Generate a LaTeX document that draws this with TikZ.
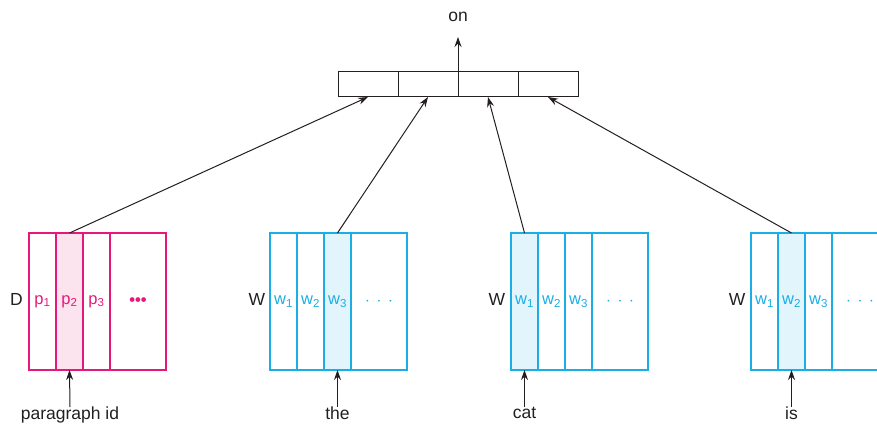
\documentclass[tikz,border=0pt]{standalone}
\usepackage{fontspec}
\setmainfont{Liberation Sans}
\usetikzlibrary{arrows.meta}
\definecolor{pk}{HTML}{E6197A}
\definecolor{pkfill}{HTML}{FCE4EE}
\definecolor{cy}{HTML}{1AAEE5}
\definecolor{cyfill}{HTML}{E3F5FC}
\definecolor{ink}{HTML}{231F20}
\tikzset{
  cellbase/.style={draw, line width=1.2pt, minimum height=137pt, inner sep=0pt, outer sep=0pt, anchor=north west, font=\fontsize{16.5}{16.5}\selectfont},
  narrow/.style={cellbase, minimum width=27pt},
  wide/.style={cellbase, minimum width=56pt},
  pcell/.style={draw=pk, text=pk},
  wcell/.style={draw=cy, text=cy},
  topcell/.style={draw=ink, line width=1pt, minimum width=60pt, minimum height=25pt, inner sep=0pt, outer sep=0pt, anchor=north west},
  lbl/.style={text=ink, font=\fontsize{17.5}{17.5}\selectfont, inner sep=0pt},
  arr/.style={draw=ink, line width=1pt, -{Stealth[length=10pt,width=7pt]}},
}
\newcommand\sub[1]{\textsubscript{#1}}
\begin{document}
\begin{tikzpicture}[x=1pt,y=-1pt]
\useasboundingbox (0,0) rectangle (877,430);
% top vector
\node[topcell] (t1) at (338,72) {};
\node[topcell] (t2) at (398,72) {};
\node[topcell] (t3) at (458,72) {};
\node[topcell] (t4) at (518,72) {};
\node[lbl] (on) at (458,17) {on};
\coordinate (ontip) at (458,37);
\draw[arr] (t3.north west) -- (ontip);
% D block
\node[narrow,pcell] (p1) at (29,233) {p\sub{1}};
\node[narrow,pcell,fill=pkfill] (p2) at (56,233) {p\sub{2}};
\node[narrow,pcell] (p3) at (83,233) {p\sub{3}};
\node[wide,pcell] (p4) at (110,233) {\textbf{•••}};
\node[lbl] (D) at (16.5,299) {D};
% W block 1 (the)
\node[narrow,wcell] (a1) at (270,233) {w\sub{1}};
\node[narrow,wcell] (a2) at (297,233) {w\sub{2}};
\node[narrow,wcell,fill=cyfill] (a3) at (324,233) {w\sub{3}};
\node[wide,wcell] (a4) at (351,233) {$\cdot\,\cdot\,\cdot$};
\node[lbl] (W1) at (257,299) {W};
% W block 2 (cat)
\node[narrow,wcell,fill=cyfill] (b1) at (511,233) {w\sub{1}};
\node[narrow,wcell] (b2) at (538,233) {w\sub{2}};
\node[narrow,wcell] (b3) at (565,233) {w\sub{3}};
\node[wide,wcell] (b4) at (592,233) {$\cdot\,\cdot\,\cdot$};
\node[lbl] (W2) at (497,299) {W};
% W block 3 (is)
\node[narrow,wcell] (c1) at (751,233) {w\sub{1}};
\node[narrow,wcell,fill=cyfill] (c2) at (778,233) {w\sub{2}};
\node[narrow,wcell] (c3) at (805,233) {w\sub{3}};
\node[wide,wcell] (c4) at (832,233) {$\cdot\,\cdot\,\cdot$};
\node[lbl] (W3) at (737,299) {W};
% input words
\node[lbl,anchor=north] (pid) at (70,407) {paragraph id};
\node[lbl,anchor=north] (the) at (337.5,407) {the};
\node[lbl,anchor=north] (cat) at (524.5,407) {cat};
\node[lbl,anchor=north] (is) at (791.5,407) {is};
\draw[arr] (pid.north) -- (p2.south);
\draw[arr] (the.north) -- (a3.south);
\draw[arr] (cat.north) -- (b1.south);
\draw[arr] (is.north) -- (c2.south);
% to top vector
\draw[arr] (p2.north) -- (t1.south);
\draw[arr] (a3.north) -- (t2.south);
\draw[arr] (b1.north) -- (t3.south);
\draw[arr] (c2.north) -- (t4.south);
\end{tikzpicture}
\end{document}
